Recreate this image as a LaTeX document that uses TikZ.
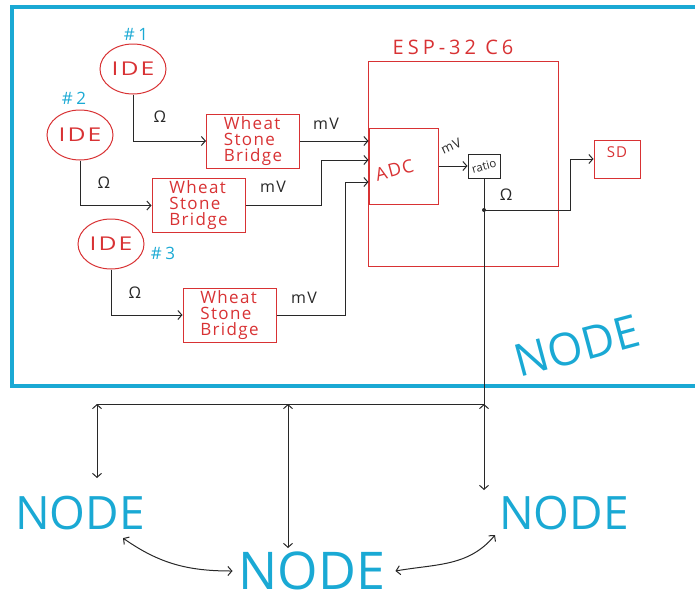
\documentclass[tikz,border=0pt]{standalone}
\usepackage{fontspec}
\usepackage{graphicx}
\setmainfont{Open Sans}
\newfontfamily\handfont{Open Sans}[LetterSpace=8]
\newfontfamily\wideface{Open Sans}[LetterSpace=20]
\usetikzlibrary{arrows.meta,shapes.geometric}
\definecolor{netcyan}{RGB}{26,169,212}
\definecolor{boardred}{RGB}{216,50,52}
\definecolor{wireink}{RGB}{40,40,40}

\begin{document}
\begin{tikzpicture}[x=1pt, y=-1pt, >={Straight Barb[length=4pt,width=9pt]}, every node/.style={align=center},
  ide/.style={draw=boardred, line width=1pt, ellipse, minimum width=66pt, minimum height=50pt, inner sep=0pt, text=boardred, font=\handfont\fontsize{19}{19}\selectfont},
  bridge/.style={draw=boardred, line width=1pt, minimum width=93pt, minimum height=54pt, inner sep=1pt, text=boardred, align=left, font=\handfont\fontsize{17}{16}\selectfont},
  redbox/.style={draw=boardred, line width=1pt, inner sep=0pt},
  wire/.style={draw=wireink, line width=1pt},
  qty/.style={text=wireink, font=\handfont\fontsize{16}{16}\selectfont},
  idtag/.style={text=netcyan, font=\wideface\fontsize{17}{17}\selectfont},
  bignode/.style={text=netcyan, inner sep=0pt, font=\fontsize{46}{46}\selectfont}]
\useasboundingbox (0,0) rectangle (695,597);
\draw[netcyan, line width=4pt] (700,386) -- (12,386) -- (12,7) -- (700,7);

% sensors and bridges
\node[ide] (ide1) at (133,69) {\scalebox{1.3}[1]{IDE}};
\node[ide] (ide2) at (80,135) {\scalebox{1.3}[1]{IDE}};
\node[ide] (ide3) at (111,244) {\scalebox{1.3}[1]{IDE}};
\node[idtag] (tag1) at (136,34) {\#1};
\node[idtag] (tag2) at (74,98) {\#2};
\node[idtag] (tag3) at (163,253) {\#3};
\node[bridge] (wsb1) at (253,141) {Wheat\\Stone\\Bridge};
\node[bridge] (wsb2) at (198.5,205.5) {Wheat\\Stone\\Bridge};
\node[bridge] (wsb3) at (229.5,315) {Wheat\\Stone\\Bridge};

% board
\node[redbox, minimum width=190pt, minimum height=205pt] (esp) at (463,163.5) {};
\node[text=boardred, font=\wideface\fontsize{20}{20}\selectfont] (esplbl) at (453,47) {ESP-32 C6};
\node[redbox, minimum width=69pt, minimum height=76pt] (adc) at (403.5,166) {};
\node[text=boardred, font=\handfont\fontsize{18}{18}\selectfont] (adctxt) at ([xshift=-9pt,yshift=-4pt]adc.center) {\rotatebox{15}{ADC}};
\node[draw=wireink, line width=1pt, minimum width=32pt, minimum height=24pt, inner sep=0pt, text=wireink, font=\fontsize{11.5}{11.5}\selectfont] (ratio) at (484,166) {\rotatebox{15}{ratio}};
\node[redbox, minimum width=46pt, minimum height=38pt, inner sep=7pt, text height=10pt, text depth=14pt, text=boardred, font=\handfont\fontsize{15}{15}\selectfont] (sd) at (617,159) {SD};

% quantities
\node[qty] (om1) at (160,117) {Ω};
\node[qty] (om2) at (104,183) {Ω};
\node[qty] (om3) at (135,293) {Ω};
\node[qty] (om4) at (506,195) {Ω};
\node[qty] (mv1) at (326,124) {mV};
\node[qty] (mv2) at (273,187) {mV};
\node[qty] (mv3) at (304,298) {mV};
\node[qty, font=\handfont\fontsize{13}{13}\selectfont] (mv4) at (451,146) {\rotatebox{25}{mV}};

\draw[wire,->] (ide1.south) |- (wsb1.west);
\draw[wire,->] (ide2.south) |- (wsb2.west);
\draw[wire,->] (ide3.south) |- (wsb3.west);
\draw[wire,->] (wsb1.east) -- (wsb1.east -| adc.west);
\draw[wire,->] (wsb2.east) -- ++(76,0) |- ([yshift=6pt]adc.west);
\draw[wire,->] (wsb3.east) -- ++(69,0) |- ([yshift=-16pt]adc.west);
\draw[wire,->] (adc.east) -- (ratio.west);
\coordinate (tap) at (484,210);
\draw[wire] (ratio.south) -- (tap);
\fill[wireink] (tap) circle (2);
\draw[wire,->] (tap) -- ++(86,0) |- (sd.west);

% network
\node[bignode] (netL) at (80,513) {NODE};
\node[bignode, font=\fontsize{52}{52}\selectfont] (netM) at (312,571) {NODE};
\node[bignode] (netR) at (564,513) {NODE};
\node[bignode, font=\fontsize{45}{45}\selectfont, rotate=15] (netIn) at (577,346) {NODE};
\coordinate (busL) at (97,404);
\coordinate (busM) at (288,404);
\coordinate (busR) at (tap |- busL);
\draw[wire] (tap) -- (busR) -- (busL);
\draw[wire,<->] (busL) -- ++(0,74);
\draw[wire,<->] (busM) -- ++(0,144);
\draw[wire,<->] (busR) -- ++(0,86);
\draw[wire,<->] ([shift={(-22pt,-8pt)}]netL.south east) to[out=-35, in=180] ([xshift=-6pt]netM.west);
\draw[wire,<->] ([xshift=10pt]netM.east) to[out=10, in=-130] ([shift={(-4pt,-5pt)}]netR.south west);
\end{tikzpicture}
\end{document}
